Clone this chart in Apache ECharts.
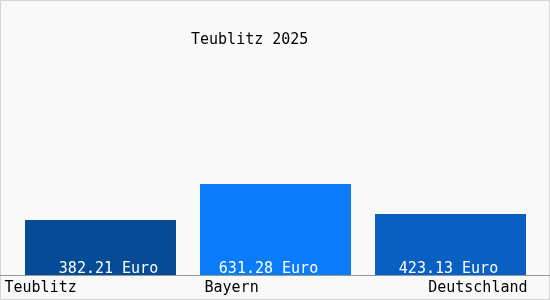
<!DOCTYPE html>
<html><head><meta charset="utf-8">
<script src="https://cdn.jsdelivr.net/npm/echarts@6/dist/echarts.min.js"></script>
<style>html,body{margin:0;padding:0;background:#f9f9f9}#c{width:550px;height:300px}</style>
</head><body><div id="c"></div>
<script>
const titleText = "Teublitz 2025";
const categories = ["Teublitz", "Bayern", "Deutschland"];
const values = [382.21, 631.28, 423.13];
const unit = "Euro";
const colors = ["#054b96", "#0a7cfa", "#0a5fc2"];
const labelOffsets = [[8, 4], [-7, 4], [-2, 4]];
const catLabelAlign = ["left", "left", "right"];
const catLabelDx = [-96, -71, 77];

const chart = echarts.init(document.getElementById('c'), null, {renderer: 'canvas'});
const font = "'DejaVu Sans Mono', monospace";
const weight = 'normal';
chart.setOption({
  backgroundColor: '#f9f9f9',
  animation: false,
  title: {text: titleText, left: 186, top: 28,
    textStyle: {fontFamily: font, fontSize: 15, fontWeight: weight, color: '#000'}},
  grid: {left: 13, right: 12, top: 131, bottom: 25},
  xAxis: {type: 'category', data: categories, axisLine: {show: false}, axisTick: {show: false}, axisLabel: {show: false}},
  yAxis: {type: 'value', min: 0, max: 1000, show: false, splitLine: {show: false}},
  series: [{
    type: 'bar', barWidth: 151,
    data: values.map((v, i) => ({value: v, itemStyle: {color: colors[i]},
      label: {offset: labelOffsets[i]}})),
    label: {show: true, position: 'insideBottom', distance: 2,
      formatter: p => p.value.toFixed(2) + ' ' + unit,
      fontFamily: font, fontSize: 15, fontWeight: weight, color: '#fff'}
  }]
});
const elements = [
  {type: 'rect', shape: {x: 0.5, y: 0.5, width: 549, height: 299}, style: {fill: null, stroke: '#d4d4d4', lineWidth: 1}, z: 10},
  {type: 'line', shape: {x1: 0, y1: 275.5, x2: 550, y2: 275.5}, style: {stroke: '#999', lineWidth: 1}, z: 10}
];
categories.forEach((c, i) => {
  const px = chart.convertToPixel({xAxisIndex: 0}, c);
  elements.push({type: 'text', x: px + catLabelDx[i], y: 288, style: {text: c, fontFamily: font, fontSize: 15, fontWeight: weight, fill: '#000',
    align: catLabelAlign[i], verticalAlign: 'middle'}});
});
chart.setOption({graphic: {elements}});
</script></body></html>
